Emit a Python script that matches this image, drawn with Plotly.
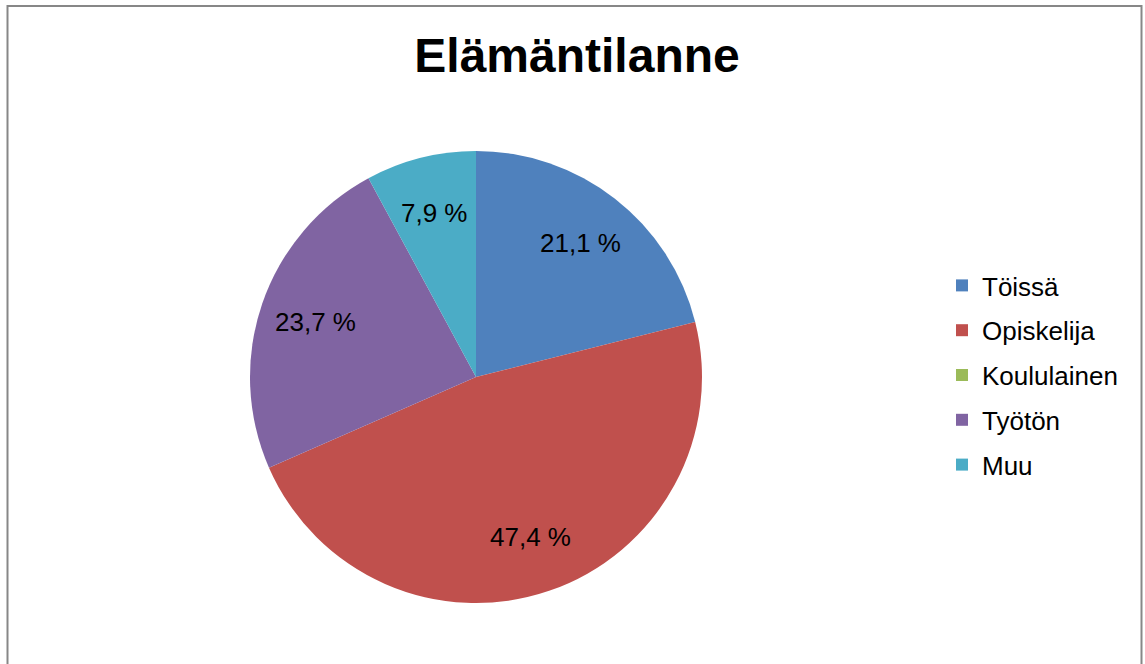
import math
import plotly.graph_objects as go

labels = ["Töissä", "Opiskelija", "Koululainen", "Työtön", "Muu"]
values = [21.1, 47.4, 0.0, 23.7, 7.9]
colors = ["#4F81BD", "#C0504D", "#9BBB59", "#8064A2", "#4BACC6"]
title = "Elämäntilanne"

W, H = 1145, 664
FONT = "Liberation Sans, Arial, sans-serif"

# pie placement (pixels)
CX, CY, R = 476, 377, 226
LABEL_FRAC = 0.75


def fmt(v):
    return ("%.1f" % v).replace(".", ",") + " %"


fig = go.Figure()
fig.add_trace(go.Pie(
    labels=labels, values=values, textinfo="none",
    marker=dict(colors=colors, line=dict(width=0)),
    sort=False, direction="clockwise", rotation=0,
    showlegend=False, hoverinfo="label+percent",
    domain=dict(x=[(CX - R) / W, (CX + R) / W], y=[1 - (CY + R) / H, 1 - (CY - R) / H]),
))

# percentage labels placed along each slice's bisector
annotations = []
total = sum(values)
cum = 0.0
for v in values:
    if v > 0:
        mid = (cum + v / 2) / total * 2 * math.pi
        px = CX + LABEL_FRAC * R * math.sin(mid)
        py = CY - LABEL_FRAC * R * math.cos(mid)
        annotations.append(dict(
            x=px / W, y=1 - py / H, xref="paper", yref="paper",
            text=fmt(v), showarrow=False, xanchor="center", yanchor="middle",
            font=dict(family=FONT, size=26, color="black"),
        ))
    cum += v

for lab, col in zip(labels, colors):
    fig.add_trace(go.Scatter(
        x=[None], y=[None], mode="markers", name=lab, legendgroup=lab,
        marker=dict(symbol="square", size=12, color=col),
    ))

fig.update_layout(
    width=W, height=H,
    margin=dict(l=0, r=0, t=0, b=0),
    paper_bgcolor="white", plot_bgcolor="white",
    title=dict(text="<b>" + title + "</b>", x=577 / W, xanchor="center", y=1 - 55 / H, yanchor="middle",
               font=dict(family=FONT, size=48, color="black")),
    xaxis=dict(visible=False), yaxis=dict(visible=False),
    legend=dict(x=942 / W, xanchor="left", y=1 - 262 / H, yanchor="top",
                font=dict(family=FONT, size=26, color="black"),
                tracegroupgap=8, bgcolor="rgba(0,0,0,0)"),
    annotations=annotations,
    shapes=[dict(type="rect", xref="paper", yref="paper",
                 x0=7.5 / W, x1=1141.5 / W, y0=-0.05, y1=1 - 6 / H,
                 line=dict(color="#878787", width=2), fillcolor="rgba(0,0,0,0)")],
)

fig.write_html("out.html", config={"displayModeBar": False},
               post_script="document.body.style.margin='0';")
